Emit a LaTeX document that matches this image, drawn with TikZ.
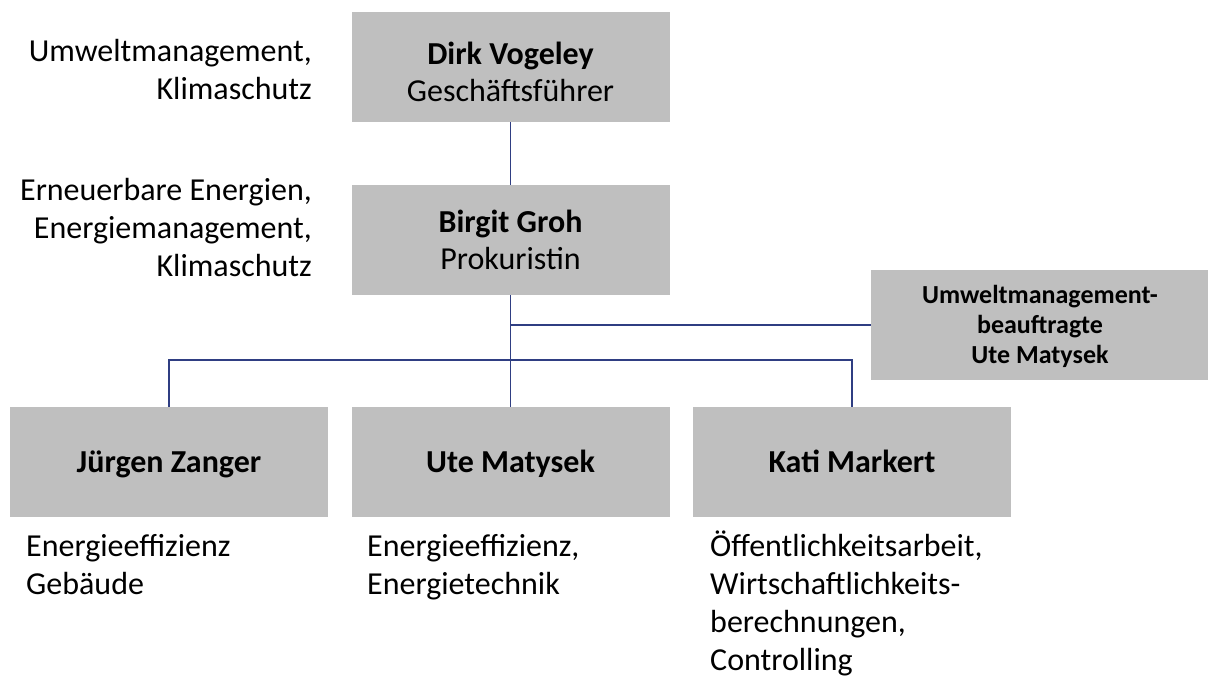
\documentclass[tikz,border=0pt]{standalone}
\usepackage{fontspec}
\setmainfont{Carlito}
\definecolor{boxgray}{RGB}{191,191,191}
\definecolor{linkblue}{RGB}{47,62,130}

\begin{document}
\begin{tikzpicture}[x=1pt,y=-1pt,
  person/.style={fill=boxgray,minimum width=318pt,minimum height=110pt,text width=300pt,align=flush center,inner sep=0pt,
    text height=26pt,text depth=6pt,font=\fontsize{32}{37}\selectfont},
  twoline/.style={text height=40pt,text depth=44pt},
  duty/.style={anchor=base west,text width=320pt,align=flush left,inner sep=0pt,font=\fontsize{32}{38}\selectfont},
  topic/.style={anchor=base east,text width=310pt,align=flush right,inner sep=0pt,font=\fontsize{32}{38}\selectfont},
  link/.style={draw=linkblue,line width=1.4pt}]
\useasboundingbox (0,0) rectangle (1208,677);

\path (510.5,67) node[person,twoline](Dirk){\textbf{Dirk Vogeley}\\Geschäftsführer}
 (510.5,240) node[person,twoline,text height=34pt,text depth=50pt](Birgit){\textbf{Birgit Groh}\\Prokuristin}
 (1040,325) node[person,minimum width=338pt,text width=330pt,text height=22pt,text depth=66pt,
   font=\fontsize{26}{30}\selectfont](Umwelt){\textbf{Umweltmanagement-}\\\textbf{beauftragte}\\\textbf{Ute Matysek}}
 (169,462) node[person](Juergen){\textbf{Jürgen Zanger}}
 (510.5,462) node[person](Ute){\textbf{Ute Matysek}}
 (852,462) node[person](Kati){\textbf{Kati Markert}};

\path (312,62) node[topic](DirkTopics){Umweltmanagement,\\Klimaschutz}
 (312,200) node[topic](BirgitTopics){Erneuerbare Energien,\\Energiemanagement,\\Klimaschutz};

\path (26,556) node[duty](JuergenDuty){Energieeffizienz\\Gebäude}
 (367,556) node[duty](UteDuty){Energieeffizienz,\\Energietechnik}
 (710,556) node[duty](KatiDuty){Öffentlichkeitsarbeit,\\Wirtschaftlichkeits-\\berechnungen,\\Controlling};

\coordinate (Bus) at (Birgit.south |- 0,360);

\draw[link] (Dirk) -- (Birgit);
\draw[link] (Birgit) -- (Ute);
\draw[link] (Birgit.south |- Umwelt.west) -- (Umwelt.west);
\draw[link] (Juergen.north) |- (Bus) -| (Kati.north);
\end{tikzpicture}
\end{document}
